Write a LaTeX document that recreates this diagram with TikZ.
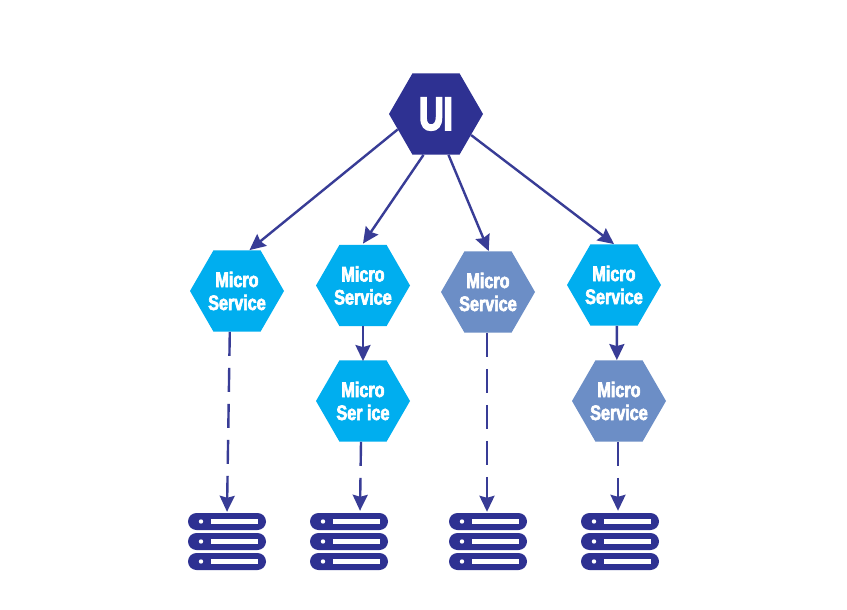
\documentclass[tikz,border=0pt]{standalone}
\usepackage{fontspec}
\usetikzlibrary{shapes.geometric,arrows.meta}
\newfontfamily\condfont[FakeStretch=0.77,FakeBold=3]{Liberation Sans Bold}
\newfontfamily\uifont[FakeStretch=0.72,FakeBold=3.5]{Liberation Sans Bold}
\definecolor{navy}{HTML}{2E3192}
\definecolor{linecol}{HTML}{383C96}
\definecolor{cyanfill}{HTML}{00AEEF}
\definecolor{greyblue}{HTML}{6C8EC6}
\tikzset{
  hexa/.style={regular polygon,regular polygon sides=6,
    minimum size=94pt,inner sep=0pt,draw=none,fill=#1,text=white,align=center,
    font=\condfont\fontsize{21}{23}\selectfont},
  uihex/.style={hexa=navy,font=\uifont\fontsize{47}{47}\selectfont},
  pill/.style={rectangle,fill=navy,rounded corners=8.5pt,minimum width=78pt,minimum height=17pt,inner sep=0pt,draw=none},
  slot/.style={rectangle,fill=white,minimum width=47pt,minimum height=5pt,inner sep=0pt,draw=none},
  dot/.style={circle,fill=white,minimum size=4.4pt,inner sep=0pt,draw=none},
  link/.style={draw=linecol,line width=2.4pt,-{Stealth[length=16pt,width=15pt,inset=2pt]}},
  dashlink/.style={link,dash pattern=on 24pt off 12pt},
}
\begin{document}
\begin{tikzpicture}[x=1pt,y=-1pt]
\useasboundingbox[fill=white] (0,0) rectangle (847,610);
\node[uihex] (ui) at (436,114) {UI};
\node[hexa=cyanfill] (ms1) at (237,291) {Micro\\Service};
\node[hexa=cyanfill] (ms2) at (363,285.5) {Micro\\Service};
\node[hexa=cyanfill] (ms2b) at (363,401) {Micro\\Ser ice};
\node[hexa=greyblue] (ms3) at (488,292) {Micro\\Service};
\node[hexa=cyanfill] (ms4) at (614,285) {Micro\\Service};
\node[hexa=greyblue] (ms4b) at (619,401) {Micro\\Service};
\foreach \n/\x in {1/227,2/349,3/488,4/620}{
  \foreach \m/\y in {a/521.5,b/541.5,c/561.5}{
    \node[pill] (s\n\m) at (\x,\y) {};
    \node[dot] (d\n\m) at (\x-26,\y) {};
    \node[slot] (r\n\m) at (\x+7.5,\y) {};
  }
}
\draw[link] (ui.202.8) -- (ms1.73);
\draw[link] (ui.253.7) -- ([yshift=1pt]ms2.90);
\draw[link] (ui.287.6) -- (ms3.89);
\draw[link] (ui.329.7) -- (ms4.90);
\draw[link] (ms2.270) -- ([yshift=-1pt]ms2b.90);
\draw[link] (ms4.274) -- (ms4b.93);
\draw[dashlink] (ms1.260.3) -- ([yshift=1pt]s1a.north);
\draw[dashlink] ([xshift=-2pt]ms2b.270) -- ([xshift=11pt,yshift=2pt]s2a.north);
\draw[dashlink] ([xshift=-1pt]ms3.270) -- ([xshift=-1pt,yshift=1pt]s3a.north);
\draw[dashlink] ([xshift=-1pt]ms4b.270) -- ([xshift=-2pt,yshift=2pt]s4a.north);
\end{tikzpicture}
\end{document}
